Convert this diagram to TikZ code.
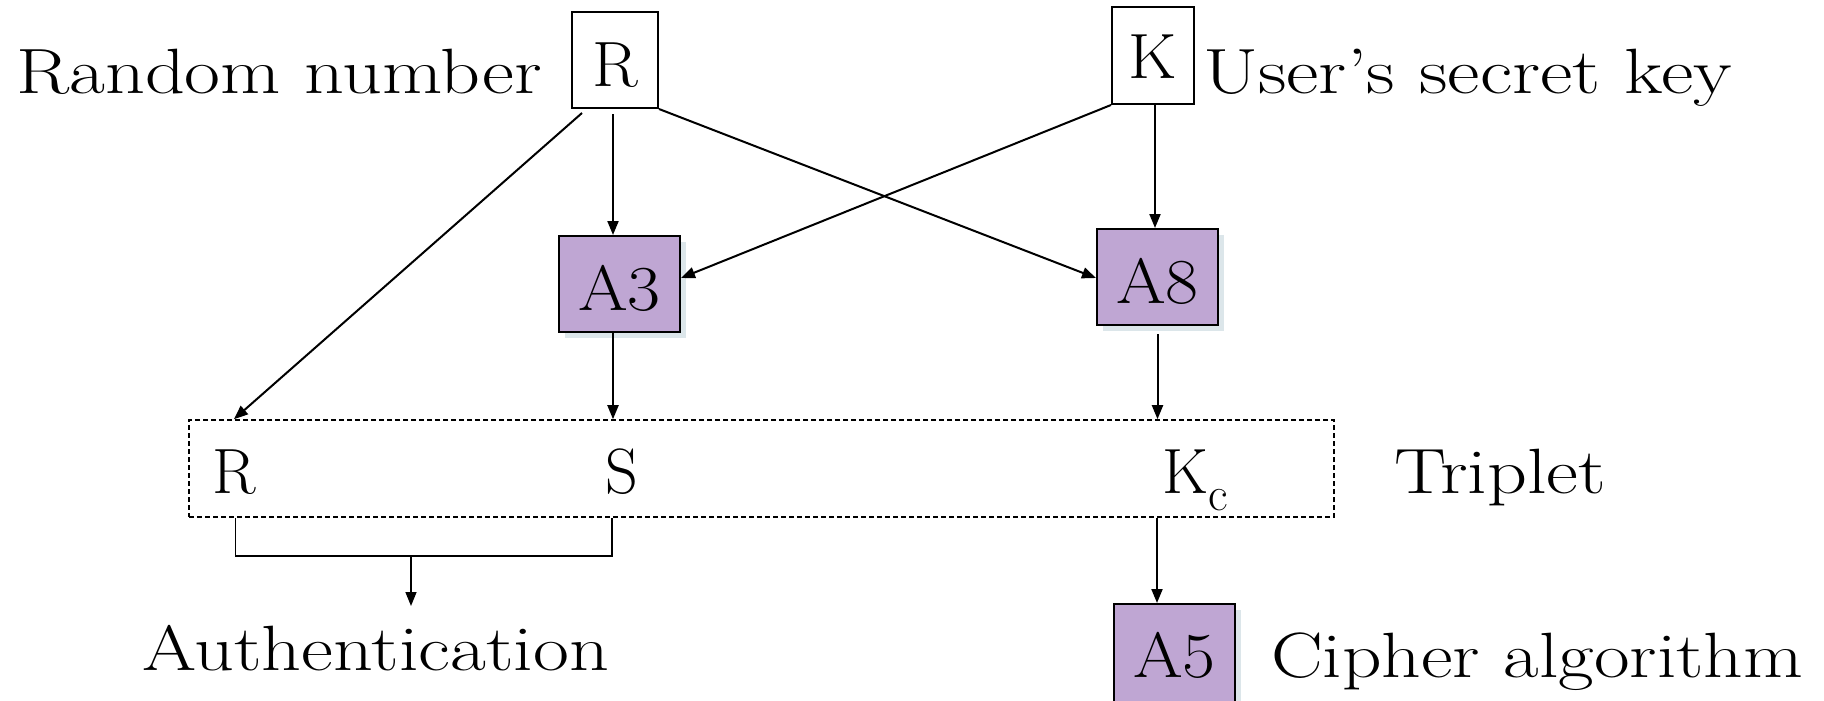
\documentclass[tikz,border=0pt]{standalone}
\usepackage{graphicx}
\usetikzlibrary{arrows.meta,shadows}
\definecolor{algfill}{RGB}{191,166,211}
\definecolor{shadowc}{RGB}{220,230,234}
\newcommand{\wide}[2]{\scalebox{#1}[1]{#2}}
\tikzset{
  every node/.style={font=\fontsize{64}{70}\selectfont, inner sep=0pt},
  inbox/.style={draw, line width=2pt, fill=white, text height=52pt, text depth=0pt},
  algbox/.style={draw, line width=2pt, fill=algfill, text height=52pt, text depth=0pt,
    drop shadow={shadow xshift=6pt, shadow yshift=-6pt, fill=shadowc, opacity=1}},
  lbl/.style={anchor=base west},
  arr/.style={line width=2pt, -{Triangle[length=14pt,width=11pt]}},
  triplebox/.style={draw, dash pattern=on 5pt off 3pt, line width=1.6pt},
  bracket/.style={line width=1.5pt},
}
\begin{document}
\begin{tikzpicture}[x=1pt,y=-1pt]
\useasboundingbox (0,0) rectangle (1824,701);
% boxes
\node[inbox, minimum width=86pt, minimum height=96pt] (Rbox) at (615,60) {\wide{1.05}{R}};
\node[inbox, minimum width=82pt, minimum height=97pt, text height=47pt] (Kbox) at (1153,55.5) {\wide{1.05}{K}};
\node[algbox, minimum width=121pt, minimum height=96pt] (A3) at (619.5,284) {\wide{1.12}{A3}};
\node[algbox, minimum width=121pt, minimum height=96pt] (A8) at (1157.5,277) {\wide{1.12}{A8}};
\node[algbox, minimum width=121pt, minimum height=98pt, text height=48pt] (A5) at (1174.5,653) {\wide{1.12}{A5}};
\node[triplebox, minimum width=1145pt, minimum height=97pt] (trip) at (761.5,468.5) {};
% labels
\node[lbl] (rnum) at (16,94) {\wide{1.22}{Random number}};
\node[lbl] (ukey) at (1203,93) {\wide{1.24}{User's secret key}};
\node[lbl] (tR) at (212,493) {R};
\node[lbl] (tS) at (605,493) {S};
\node[lbl] (tK) at (1162,493) {K\kern0pt\raisebox{-17pt}{\fontsize{48}{52}\selectfont c}};
\node[lbl] (triplet) at (1394,493) {\wide{1.22}{Triplet}};
\node[lbl] (auth) at (142,670) {\wide{1.22}{Authentication}};
\node[lbl] (ciph) at (1271,677) {\wide{1.21}{Cipher algorithm}};
% coordinates
\coordinate (bl) at (235.5,556);
\coordinate (br) at (612,556);
\coordinate (bm) at (411,556);
\coordinate (bmend) at (411,606);
% connectors
\draw[arr] ([xshift=11pt,yshift=-4pt]Rbox.south west) -- (tR.north |- trip.north);
\draw[arr] ([xshift=-2pt,yshift=-5pt]Rbox.south) -- ([xshift=-6.5pt]A3.north);
\draw[arr] (Rbox.south east) -- ([yshift=-1pt]A8.west);
\draw[arr] (Kbox.south west) -- ([yshift=6pt]A3.east);
\draw[arr] ([xshift=2pt]Kbox.south) -- ([xshift=-2.5pt]A8.north);
\draw[arr] ([xshift=-6.5pt]A3.south) -- ([xshift=-6.5pt]A3.south |- trip.north);
\draw[arr] ([yshift=-8pt]A8.south) -- (A8.south |- trip.north);
\draw[arr] ([xshift=-17.5pt]A5.north |- trip.south) -- ([xshift=-17.5pt]A5.north);
\draw[bracket] (bl |- trip.south) -- (bl) -- (br) -- (br |- trip.south);
\draw[arr, line width=1.5pt] (bm) -- (bmend);
\end{tikzpicture}
\end{document}
